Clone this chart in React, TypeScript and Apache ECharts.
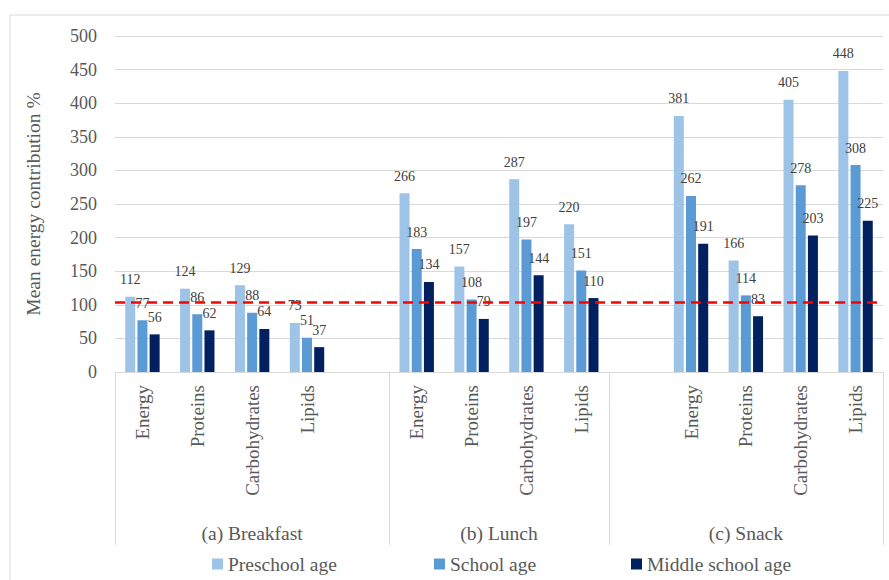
import React, { useEffect, useRef } from 'react';
import * as echarts from 'echarts';

const FONT = '"Liberation Serif", "Times New Roman", serif';

const meals = ['(a) Breakfast', '(b) Lunch', '(c) Snack'];
const nutrients = ['Energy', 'Proteins', 'Carbohydrates', 'Lipids'];
const seriesNames = ['Preschool age', 'School age', 'Middle school age'];
// values in order: breakfast (4), lunch (4), snack (4)
const preschool = [112, 124, 129, 73, 266, 157, 287, 220, 381, 166, 405, 448];
const school = [77, 86, 88, 51, 183, 108, 197, 151, 262, 114, 278, 308];
const middleSchool = [56, 62, 64, 37, 134, 79, 144, 110, 191, 83, 203, 225];
const referenceLine = 104;
const yTicks = { min: 0, max: 500, interval: 50 };
// slot layout of each meal group on the category axis (-1 = empty slot)
const groupSlots = [
  [0, 1, 2, 3, -1],
  [0, 1, 2, 3],
  [-1, 0, 1, 2, 3],
];

const colors = ['#9DC3E6', '#5B9BD5', '#002060'];

export default function App() {
  const ref = useRef<HTMLDivElement>(null);
  useEffect(() => {
    const chart = echarts.init(ref.current!, null, { renderer: 'svg' });

    const categories: string[] = [];
    const valueIdx: number[] = [];
    const groupStart: number[] = [];
    groupSlots.forEach((slots, g) => {
      groupStart.push(categories.length);
      slots.forEach((s) => {
        categories.push(s < 0 ? '' : nutrients[s]);
        valueIdx.push(s < 0 ? -1 : g * nutrients.length + s);
      });
    });
    const build = (arr: number[]) => valueIdx.map((i) => (i < 0 ? null : arr[i]));
    const datasets = [build(preschool), build(school), build(middleSchool)];

    const legendLefts = [212, 434, 631];

    const option: any = {
      animation: false,
      grid: { left: 115, right: 6, top: 36, bottom: 208, containLabel: false },
      legend: seriesNames.map((n, i) => ({
        data: [n],
        left: legendLefts[i],
        top: 553,
        padding: 0,
        icon: 'rect',
        itemWidth: 11,
        itemHeight: 11,
        textStyle: { fontFamily: FONT, fontSize: 19.5, color: '#595959', lineHeight: 22 },
      })),
      xAxis: {
        type: 'category',
        data: categories,
        axisLine: { show: true, lineStyle: { color: '#D9D9D9', width: 1 } },
        axisTick: { show: false },
        axisLabel: {
          rotate: 90,
          interval: 0,
          margin: 13,
          fontFamily: FONT,
          fontSize: 19,
          color: '#595959',
        },
      },
      yAxis: {
        type: 'value',
        min: yTicks.min,
        max: yTicks.max,
        interval: yTicks.interval,
        name: 'Mean energy contribution %',
        nameLocation: 'middle',
        nameGap: 72,
        nameTextStyle: { fontFamily: FONT, fontSize: 19.5, color: '#595959' },
        axisLine: { show: false },
        axisTick: { show: false },
        axisLabel: { margin: 18, fontFamily: FONT, fontSize: 18, color: '#595959' },
        splitLine: { lineStyle: { color: '#D9D9D9', width: 1 } },
      },
      series: seriesNames.map((n, i) => ({
        name: n,
        type: 'bar',
        data: datasets[i],
        barWidth: 10,
        barGap: '22%',
        itemStyle: { color: colors[i] },
        label: {
          show: true,
          position: 'top',
          distance: 10,
          fontFamily: FONT,
          fontSize: 14,
          color: '#404040',
        },
        markLine:
          i === 0
            ? {
                silent: true,
                symbol: ['none', 'none'],
                label: { show: false },
                lineStyle: { color: '#FF0000', type: [10, 6], width: 2.5 },
                data: [{ yAxis: referenceLine }],
              }
            : undefined,
      })),
    };
    chart.setOption(option);

    const cx = (i: number) => chart.convertToPixel({ xAxisIndex: 0 }, i) as number;
    const bw = cx(1) - cx(0);
    const boundary = (i: number) => cx(0) + (i - 0.5) * bw;
    const yZero = chart.convertToPixel({ yAxisIndex: 0 }, 0) as number;
    const dividerBottom = 545;
    const bounds = [...groupStart, categories.length];

    const graphics: any[] = [
      {
        type: 'rect',
        silent: true,
        z: -10,
        shape: { x: 10, y: 15, width: 900, height: 600 },
        style: { fill: 'none', stroke: '#D9D9D9', lineWidth: 1 },
      },
    ];
    bounds.forEach((b) => {
      const x = Math.round(boundary(b)) + 0.5;
      graphics.push({
        type: 'line',
        silent: true,
        shape: { x1: x, y1: yZero, x2: x, y2: dividerBottom },
        style: { stroke: '#D9D9D9', lineWidth: 1 },
      });
    });
    meals.forEach((m, g) => {
      const mid = (boundary(bounds[g]) + boundary(bounds[g + 1])) / 2;
      graphics.push({
        type: 'text',
        silent: true,
        x: mid,
        y: 533,
        style: {
          text: m,
          fontFamily: FONT,
          fontSize: 19.5,
          fill: '#595959',
          align: 'center',
          verticalAlign: 'middle',
        },
      });
    });
    chart.setOption({ graphic: graphics });

    return () => chart.dispose();
  }, []);
  return (
    <div
      ref={ref}
      style={{ position: 'fixed', left: 0, top: 0, width: 889, height: 580, background: '#fff' }}
    />
  );
}
